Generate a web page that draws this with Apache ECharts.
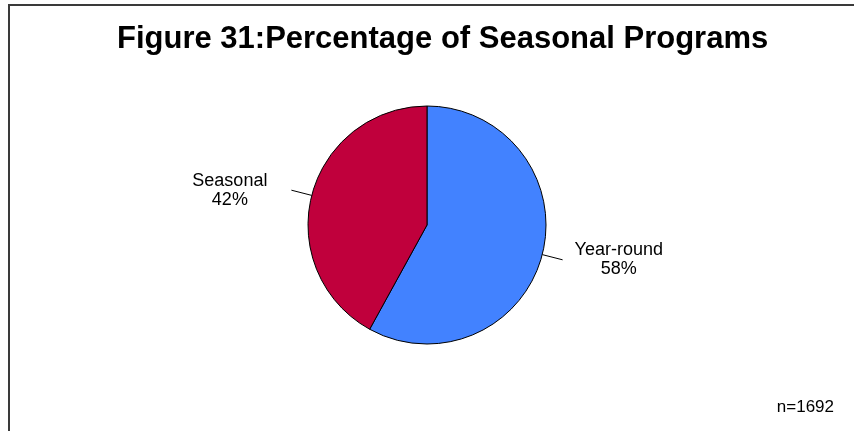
<!DOCTYPE html>
<html>
<head>
<meta charset="utf-8">
<title>Figure 31: Percentage of Seasonal Programs</title>
<script src="https://cdn.jsdelivr.net/npm/echarts@6/dist/echarts.min.js"></script>
<style>
  html, body { margin: 0; padding: 0; background: #ffffff; }
  #chart { width: 854px; height: 431px; }
</style>
</head>
<body>
<div id="chart"></div>
<script>
// Program types and their share of all programs (percent)
const categories = ['Year-round', 'Seasonal'];
const shares = [58, 42];
const sampleSize = 1692;

const sliceColors = ['#4282FF', '#C0003C'];
const FONT = '"Liberation Sans", Arial, sans-serif';

// Per-slice gap between the leader line and its label
const labelGaps = [12, 24];

const pieData = categories.map((name, i) => ({
  name: name,
  value: shares[i],
  itemStyle: { color: sliceColors[i] },
  label: { distanceToLabelLine: labelGaps[i] }
}));

const chart = echarts.init(document.getElementById('chart'), null, { renderer: 'canvas' });

chart.setOption({
  backgroundColor: '#ffffff',
  animation: false,
  title: [
    {
      text: 'Figure 31:Percentage of Seasonal Programs',
      left: 117,
      top: 23,
      padding: 0,
      textStyle: { fontFamily: FONT, fontSize: 31, fontWeight: 'bold', color: '#000000', lineHeight: 32 }
    },
    {
      text: 'n=' + sampleSize,
      right: 20,
      top: 398,
      padding: 0,
      textStyle: { fontFamily: FONT, fontSize: 17, fontWeight: 'normal', color: '#000000', lineHeight: 18 }
    }
  ],
  graphic: [
    {
      type: 'rect',
      silent: true,
      shape: { x: 9, y: 5, width: 900, height: 500 },
      style: { fill: 'none', stroke: '#3a3a3a', lineWidth: 2 }
    }
  ],
  series: [
    {
      type: 'pie',
      center: [427, 225],
      radius: 119,
      startAngle: 90,
      clockwise: true,
      avoidLabelOverlap: false,
      itemStyle: { borderColor: '#000000', borderWidth: 1 },
      label: {
        show: true,
        position: 'outside',
        formatter: '{c|{b}}\n{c|{d}%}',
        color: '#000000',
        fontFamily: FONT,
        fontSize: 18,
        lineHeight: 19,
        rich: {
          c: { align: 'center', fontFamily: FONT, fontSize: 18, lineHeight: 19, color: '#000000' }
        }
      },
      labelLine: {
        show: true,
        length: 21,
        length2: 0,
        smooth: false,
        lineStyle: { color: '#000000', width: 1 }
      },
      emphasis: { disabled: true },
      data: pieData
    }
  ]
});
</script>
</body>
</html>
